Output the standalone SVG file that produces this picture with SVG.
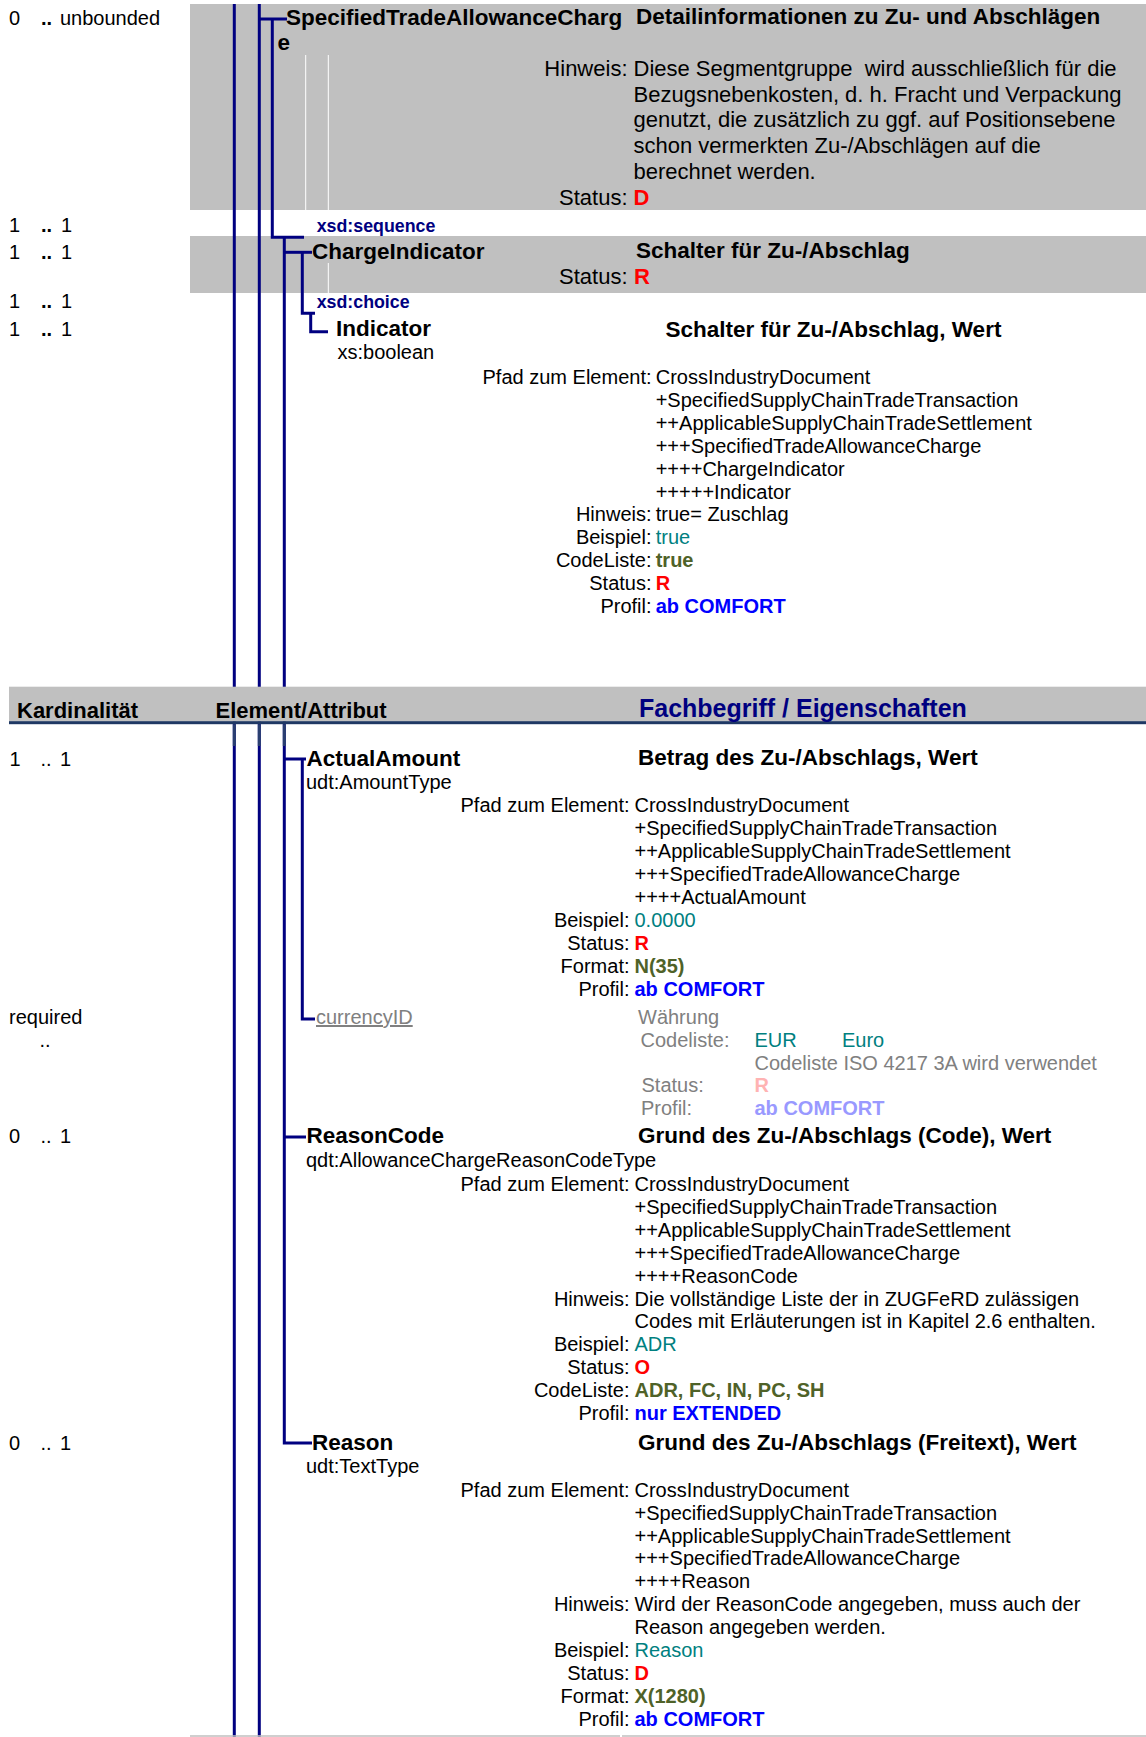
<svg xmlns="http://www.w3.org/2000/svg" width="1146" height="1737" viewBox="0 0 1146 1737">
<style>
text { font-family: "Liberation Sans", Arial, Helvetica, sans-serif; fill:#000; }
.r { font-size:20px; }
.rl { font-size:22px; }
.b { font-size:22.5px; font-weight:bold; }
.x { font-size:17.8px; font-weight:bold; fill:#000080; }
.hd { font-size:22px; font-weight:bold; }
.fach { font-size:25px; font-weight:bold; fill:#000080; }
.dd { font-weight:bold; }
.lab { text-anchor:end; }
.pre { white-space:pre; }
.teal { fill:#008080; }
.red { fill:#ff0000; font-weight:bold; }
.grn { fill:#4f6228; font-weight:bold; }
.blu { fill:#0000ff; font-weight:bold; }
.gry { fill:#808080; }
.pink { fill:#ffb3b3; font-weight:bold; }
.lblu { fill:#9999ff; font-weight:bold; }
.tree { fill:none; stroke:#000080; stroke-width:3; }
.mute { fill:none; stroke:#2a3f70; stroke-width:3; }
.wl { stroke:#ffffff; stroke-width:1; }
.band { fill:#c0c0c0; }
</style>

<!-- backgrounds -->
<rect class="band" x="190" y="4" width="956" height="206"/>
<rect class="band" x="190" y="236" width="956" height="57"/>
<line class="wl" x1="305.7" y1="55" x2="305.7" y2="210"/>
<line class="wl" x1="328.3" y1="55" x2="328.3" y2="210"/>
<line class="wl" x1="328.3" y1="263" x2="328.3" y2="293"/>

<!-- connectors -->
<g id="connectors">
  <path class="tree" d="M234.3 4 V1737"/>
  <path class="tree" d="M259.3 4 V1737"/>
  <path class="tree" d="M259.3 19 H287"/>
  <path class="tree" d="M272.3 19 V237.3 H304"/>
  <path class="tree" d="M284.3 237.3 V1443 H312"/>
  <path class="tree" d="M284.3 252.3 H312"/>
  <path class="tree" d="M302.3 252.3 V313.3 H315"/>
  <path class="tree" d="M310.7 313.3 V331.7 H328"/>
  <path class="tree" d="M284.3 759 H306"/>
  <path class="tree" d="M302.3 759 V1019 H315"/>
  <path class="tree" d="M284.3 1137 H306"/>
</g>

<!-- column header -->
<g id="header">
  <rect class="band" x="9" y="686.7" width="1137" height="35"/>
  <rect x="9" y="721.2" width="1137" height="3" fill="#1f3864"/>
  <path class="mute" d="M234.3 724.2 V746 M259.3 724.2 V746 M284.3 724.2 V746"/>
  <text class="hd" x="17" y="717.5">Kardinalität</text>
  <text class="hd" x="215.5" y="717.5">Element/Attribut</text>
  <text class="fach" x="639" y="716.7">Fachbegriff / Eigenschaften</text>
</g>

<!-- SpecifiedTradeAllowanceCharge -->
<g id="node-SpecifiedTradeAllowanceCharge">
  <text class="r" x="9" y="25">0</text><text class="r dd" x="41" y="25">..</text><text class="r" x="60" y="25">unbounded</text>
  <text class="b" x="286" y="25">SpecifiedTradeAllowanceCharg</text>
  <text class="b" x="277.5" y="50">e</text>
  <text class="b" x="636" y="24">Detailinformationen zu Zu- und Abschlägen</text>
  <text class="rl lab" x="627.5" y="76">Hinweis:</text>
  <text class="rl pre" x="633.5" y="76">Diese Segmentgruppe  wird ausschließlich für die</text>
  <text class="rl" x="633.5" y="101.7">Bezugsnebenkosten, d. h. Fracht und Verpackung</text>
  <text class="rl" x="633.5" y="127.4">genutzt, die zusätzlich zu ggf. auf Positionsebene</text>
  <text class="rl" x="633.5" y="153.1">schon vermerkten Zu-/Abschlägen auf die</text>
  <text class="rl" x="633.5" y="178.8">berechnet werden.</text>
  <text class="rl lab" x="627.5" y="205">Status:</text><text class="rl red" x="633.5" y="205">D</text>
</g>

<!-- xsd:sequence -->
<g id="node-sequence">
  <text class="r" x="9" y="232">1</text><text class="r dd" x="41" y="232">..</text><text class="r" x="61" y="232">1</text>
  <text class="x" x="316.7" y="232">xsd:sequence</text>
</g>

<!-- ChargeIndicator -->
<g id="node-ChargeIndicator">
  <text class="r" x="9" y="258.5">1</text><text class="r dd" x="41" y="258.5">..</text><text class="r" x="61" y="258.5">1</text>
  <text class="b" x="312" y="258.5">ChargeIndicator</text>
  <text class="b" x="636" y="258.3">Schalter für Zu-/Abschlag</text>
  <text class="rl lab" x="627.5" y="284">Status:</text><text class="rl red" x="634" y="284">R</text>
</g>

<!-- xsd:choice -->
<g id="node-choice">
  <text class="r" x="9" y="308">1</text><text class="r dd" x="41" y="308">..</text><text class="r" x="61" y="308">1</text>
  <text class="x" x="316.7" y="308">xsd:choice</text>
</g>

<!-- Indicator -->
<g id="node-Indicator">
  <text class="r" x="9" y="336">1</text><text class="r dd" x="41" y="336">..</text><text class="r" x="61" y="336">1</text>
  <text class="b" x="336" y="336">Indicator</text>
  <text class="r" x="337.5" y="359">xs:boolean</text>
  <text class="b" x="665.5" y="336.5">Schalter für Zu-/Abschlag, Wert</text>
  <text class="r lab" x="651.5" y="384">Pfad zum Element:</text>
  <text class="r" x="655.7" y="384">CrossIndustryDocument</text>
  <text class="r" x="655.7" y="406.9">+SpecifiedSupplyChainTradeTransaction</text>
  <text class="r" x="655.7" y="429.8">++ApplicableSupplyChainTradeSettlement</text>
  <text class="r" x="655.7" y="452.7">+++SpecifiedTradeAllowanceCharge</text>
  <text class="r" x="655.7" y="475.6">++++ChargeIndicator</text>
  <text class="r" x="655.7" y="498.5">+++++Indicator</text>
  <text class="r lab" x="651.5" y="521.4">Hinweis:</text><text class="r" x="655.7" y="521.4">true= Zuschlag</text>
  <text class="r lab" x="651.5" y="544.3">Beispiel:</text><text class="r teal" x="655.7" y="544.3">true</text>
  <text class="r lab" x="651.5" y="567.2">CodeListe:</text><text class="r grn" x="655.7" y="567.2">true</text>
  <text class="r lab" x="651.5" y="590.1">Status:</text><text class="r red" x="655.7" y="590.1">R</text>
  <text class="r lab" x="651.5" y="613">Profil:</text><text class="r blu" x="655.7" y="613">ab COMFORT</text>
</g>

<!-- ActualAmount -->
<g id="node-ActualAmount">
  <text class="r" x="9.5" y="765.7">1</text><text class="r" x="40.5" y="765.7">..</text><text class="r" x="60" y="765.7">1</text>
  <text class="b" x="306.5" y="765.7">ActualAmount</text>
  <text class="r" x="306" y="789">udt:AmountType</text>
  <text class="b" x="638" y="765.2">Betrag des Zu-/Abschlags, Wert</text>
  <text class="r lab" x="629.5" y="812.3">Pfad zum Element:</text>
  <text class="r" x="634.5" y="812.3">CrossIndustryDocument</text>
  <text class="r" x="634.5" y="835.2">+SpecifiedSupplyChainTradeTransaction</text>
  <text class="r" x="634.5" y="858.1">++ApplicableSupplyChainTradeSettlement</text>
  <text class="r" x="634.5" y="881">+++SpecifiedTradeAllowanceCharge</text>
  <text class="r" x="634.5" y="903.9">++++ActualAmount</text>
  <text class="r lab" x="629.5" y="926.8">Beispiel:</text><text class="r teal" x="634.5" y="926.8">0.0000</text>
  <text class="r lab" x="629.5" y="949.7">Status:</text><text class="r red" x="634.5" y="949.7">R</text>
  <text class="r lab" x="629.5" y="972.6">Format:</text><text class="r grn" x="634.5" y="972.6">N(35)</text>
  <text class="r lab" x="629.5" y="995.5">Profil:</text><text class="r blu" x="634.5" y="995.5">ab COMFORT</text>
</g>

<!-- currencyID -->
<g id="node-currencyID">
  <text class="r" x="9" y="1024">required</text>
  <text class="r" x="39.5" y="1047">..</text>
  <text class="r gry" x="316" y="1024" text-decoration="underline">currencyID</text>
  <text class="r gry" x="638" y="1024">Währung</text>
  <text class="r gry" x="640.5" y="1046.7">Codeliste:</text>
  <text class="r teal" x="754.5" y="1046.7">EUR</text>
  <text class="r teal" x="842" y="1046.7">Euro</text>
  <text class="r gry" x="754.5" y="1070">Codeliste ISO 4217 3A wird verwendet</text>
  <text class="r gry" x="641.5" y="1092">Status:</text><text class="r pink" x="754.5" y="1092">R</text>
  <text class="r gry" x="641" y="1115">Profil:</text><text class="r lblu" x="754.5" y="1115">ab COMFORT</text>
</g>

<!-- ReasonCode -->
<g id="node-ReasonCode">
  <text class="r" x="9" y="1142.5">0</text><text class="r" x="40.5" y="1142.5">..</text><text class="r" x="60" y="1142.5">1</text>
  <text class="b" x="306.5" y="1142.5">ReasonCode</text>
  <text class="r" x="306" y="1166.5">qdt:AllowanceChargeReasonCodeType</text>
  <text class="b" x="638" y="1142.5">Grund des Zu-/Abschlags (Code), Wert</text>
  <text class="r lab" x="629.5" y="1191">Pfad zum Element:</text>
  <text class="r" x="634.5" y="1191">CrossIndustryDocument</text>
  <text class="r" x="634.5" y="1213.9">+SpecifiedSupplyChainTradeTransaction</text>
  <text class="r" x="634.5" y="1236.8">++ApplicableSupplyChainTradeSettlement</text>
  <text class="r" x="634.5" y="1259.7">+++SpecifiedTradeAllowanceCharge</text>
  <text class="r" x="634.5" y="1282.6">++++ReasonCode</text>
  <text class="r lab" x="629.5" y="1305.5">Hinweis:</text>
  <text class="r" x="634.5" y="1305.5">Die vollständige Liste der in ZUGFeRD zulässigen</text>
  <text class="r" x="634.5" y="1328.4">Codes mit Erläuterungen ist in Kapitel 2.6 enthalten.</text>
  <text class="r lab" x="629.5" y="1351.3">Beispiel:</text><text class="r teal" x="634.5" y="1351.3">ADR</text>
  <text class="r lab" x="629.5" y="1374.2">Status:</text><text class="r red" x="634.5" y="1374.2">O</text>
  <text class="r lab" x="629.5" y="1397.1">CodeListe:</text><text class="r grn" x="634.5" y="1397.1">ADR, FC, IN, PC, SH</text>
  <text class="r lab" x="629.5" y="1420">Profil:</text><text class="r blu" x="634.5" y="1420">nur EXTENDED</text>
</g>

<!-- Reason -->
<g id="node-Reason">
  <text class="r" x="9" y="1449.5">0</text><text class="r" x="40.5" y="1449.5">..</text><text class="r" x="60" y="1449.5">1</text>
  <text class="b" x="312" y="1449.5">Reason</text>
  <text class="r" x="306" y="1473">udt:TextType</text>
  <text class="b" x="638" y="1449.5">Grund des Zu-/Abschlags (Freitext), Wert</text>
  <text class="r lab" x="629.5" y="1496.7">Pfad zum Element:</text>
  <text class="r" x="634.5" y="1496.7">CrossIndustryDocument</text>
  <text class="r" x="634.5" y="1519.6">+SpecifiedSupplyChainTradeTransaction</text>
  <text class="r" x="634.5" y="1542.5">++ApplicableSupplyChainTradeSettlement</text>
  <text class="r" x="634.5" y="1565.4">+++SpecifiedTradeAllowanceCharge</text>
  <text class="r" x="634.5" y="1588.3">++++Reason</text>
  <text class="r lab" x="629.5" y="1611.2">Hinweis:</text>
  <text class="r" x="634.5" y="1611.2">Wird der ReasonCode angegeben, muss auch der</text>
  <text class="r" x="634.5" y="1634.1">Reason angegeben werden.</text>
  <text class="r lab" x="629.5" y="1657">Beispiel:</text><text class="r teal" x="634.5" y="1657">Reason</text>
  <text class="r lab" x="629.5" y="1679.9">Status:</text><text class="r red" x="634.5" y="1679.9">D</text>
  <text class="r lab" x="629.5" y="1702.8">Format:</text><text class="r grn" x="634.5" y="1702.8">X(1280)</text>
  <text class="r lab" x="629.5" y="1725.7">Profil:</text><text class="r blu" x="634.5" y="1725.7">ab COMFORT</text>
</g>

<!-- bottom rule -->
<path d="M190 1736 H620 M622 1736 H1146" stroke="#c0c0c0" stroke-width="1.5" fill="none"/>
</svg>
